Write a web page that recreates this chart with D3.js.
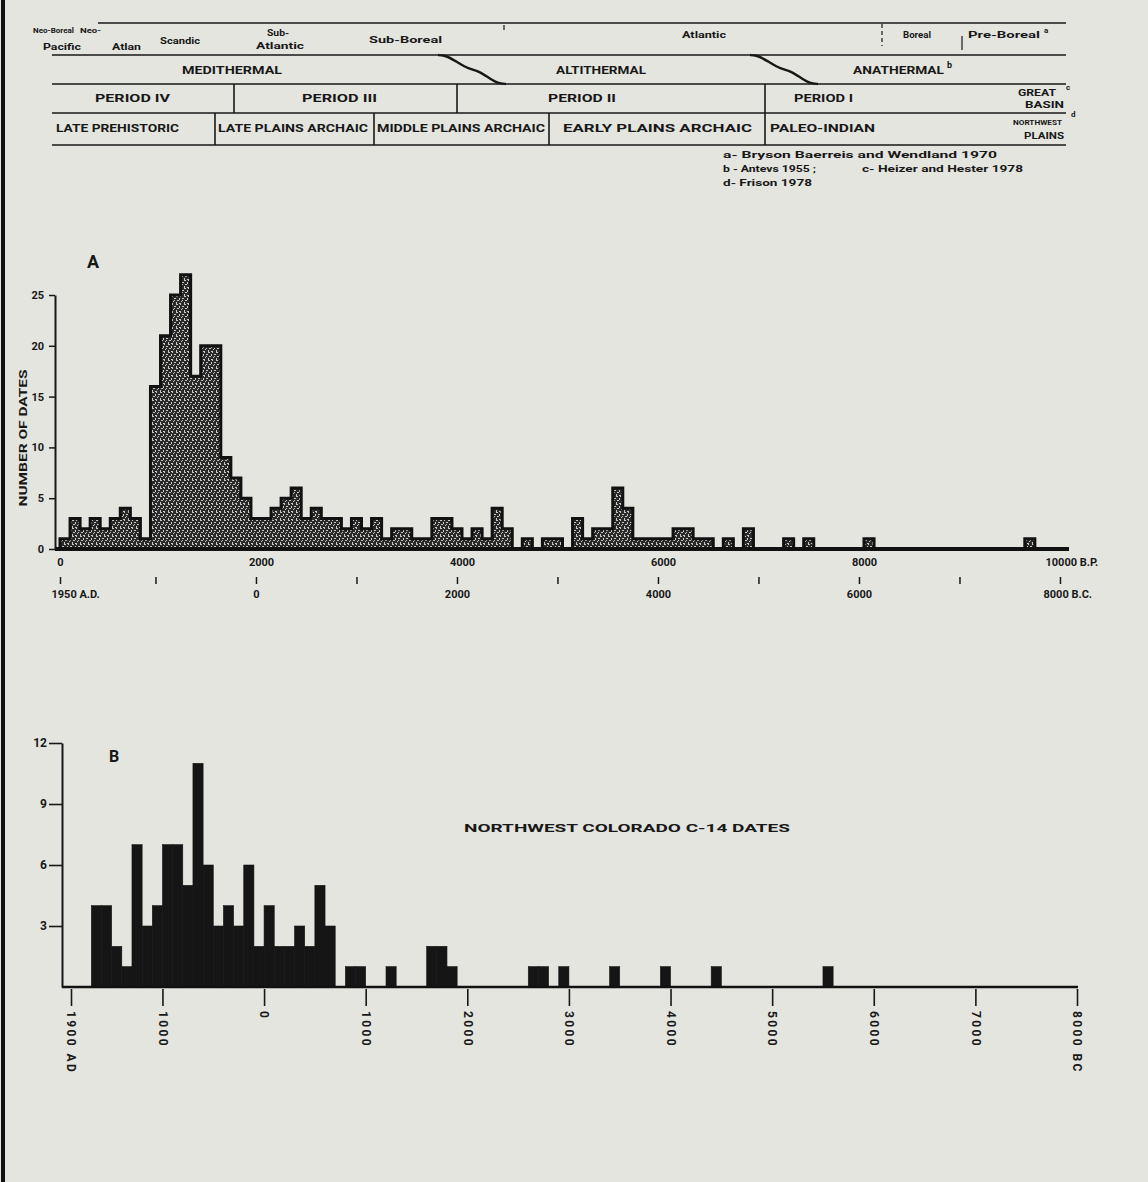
<!DOCTYPE html>
<html><head><meta charset="utf-8">
<script src="https://cdn.jsdelivr.net/npm/d3@7"></script>
<style>
html,body{margin:0;padding:0;background:#e4e5df;}
svg{display:block;}
text{font-family:Roboto,"DejaVu Sans",sans-serif;font-weight:700;fill:#181818;}
</style></head><body>
<svg id="c" width="1148" height="1182"></svg>
<script>
// ---------------- DATA ----------------
// Chart A: number of C-14 dates per 100-year bin, years B.P. (bin k = 100k .. 100k+100)
const binWidthA = 100;
const countsA = [
  1,3,2,3,2,3,4,3,1,16,
  21,25,27,17,20,20,9,7,5,3,
  3,4,5,6,3,4,3,3,2,3,
  2,3,1,2,2,1,1,3,3,2,
  1,2,1,4,2,0,1,0,1,1,
  0,3,1,2,2,6,4,1,1,1,
  1,2,2,1,1,0,1,0,2,0,
  0,0,1,0,1,0,0,0,0,0,
  1,0,0,0,0,0,0,0,0,0,
  0,0,0,0,0,0,1,0,0,0
];
const bpTicksA = [0, 2000, 4000, 6000, 8000, 10000];
const bpTickLabelsA = ["0", "2000", "4000", "6000", "8000", "10000 B.P."];
const calTicksA = [0, 950, 1950, 2950, 3950, 4950, 5950, 6950, 7950, 8950, 9950]; // in B.P.
const calTickLabelsA = ["1950 A.D.", "", "0", "", "2000", "", "4000", "", "6000", "", "8000 B.C."];
const yTicksA = [0, 5, 10, 15, 20, 25];
const yTitleA = "NUMBER OF DATES";

// Chart B: Northwest Colorado C-14 dates per 100-year bin (younger edge, calendar year; AD +, BC -)
const binEdgeB = [1700,1600,1500,1400,1300,1200,1100,1000,900,800,700,600,500,400,300,200,100,0,
  -100,-200,-300,-400,-500,-600,-800,-900,-1200,-1600,-1700,-1800,-2600,-2700,-2900,-3400,-3900,-4400,-5500];
const countsB = [4,4,2,1,7,3,4,7,7,5,11,6,3,4,3,6,2,4,
  2,2,3,2,5,3,1,1,1,2,2,1,1,1,1,1,1,1,1];
const binWidthB = 100;
const xTicksB = [1900,1000,0,-1000,-2000,-3000,-4000,-5000,-6000,-7000,-8000];
const xTickLabelsB = ["1900 AD","1000","0","1000","2000","3000","4000","5000","6000","7000","8000 BC"];
const yTicksB = [3, 6, 9, 12];
const titleB = "NORTHWEST COLORADO C-14 DATES";

// Chronology table text
const row1Labels = ["Neo-Boreal","Neo-","Pacific","Atlan","Scandic","Sub-","Atlantic","Sub-Boreal","Atlantic","Boreal","Pre-Boreal"];
const row2Labels = ["MEDITHERMAL","ALTITHERMAL","ANATHERMAL"];
const row3Labels = ["PERIOD IV","PERIOD III","PERIOD II","PERIOD I","GREAT","BASIN"];
const row4Labels = ["LATE PREHISTORIC","LATE PLAINS ARCHAIC","MIDDLE PLAINS ARCHAIC","EARLY PLAINS ARCHAIC","PALEO-INDIAN","NORTHWEST","PLAINS"];
const refLabels = ["a- Bryson Baerreis and Wendland 1970","b - Antevs 1955 ;","c- Heizer and Hester 1978","d- Frison 1978"];

// ---------------- DRAWING ----------------
const W = 1148, H = 1182;
const svg = d3.select("#c");
svg.append("rect").attr("width", W).attr("height", H).attr("fill", "#e4e5df");
const ink = "#181818";

const defs = svg.append("defs");
const pat = defs.append("pattern").attr("id","stip").attr("width",8).attr("height",8).attr("patternUnits","userSpaceOnUse");
pat.append("rect").attr("width",8).attr("height",8).attr("fill","#2a2a2a");
[[0,0,2,1],[3,2,1,2],[1,4,2,1],[5,5,1,1],[4,0,1,1],[6,2,2,1],[0,6,1,2],[3,7,2,1],[6,4,1,1]].forEach(r =>
  pat.append("rect").attr("x",r[0]).attr("y",r[1]).attr("width",r[2]).attr("height",r[3]).attr("fill","#c6c7c1"));

function txt(g, x, y, s, o = {}) {
  const t = g.append("text").attr("x", x).attr("y", y).text(s)
    .attr("font-size", o.size || 11).attr("text-anchor", o.anchor || "start");
  if (o.len) t.attr("textLength", o.len).attr("lengthAdjust", "spacingAndGlyphs");
  return t;
}
function hline(g, x1, x2, y, w = 1.6) {
  g.append("line").attr("x1", x1).attr("x2", x2).attr("y1", y).attr("y2", y).attr("stroke", ink).attr("stroke-width", w);
}
function vline(g, x, y1, y2, w = 1.6, dash) {
  const l = g.append("line").attr("x1", x).attr("x2", x).attr("y1", y1).attr("y2", y2).attr("stroke", ink).attr("stroke-width", w);
  if (dash) l.attr("stroke-dasharray", dash);
}

// frame (scan border)
svg.append("rect").attr("x", 1).attr("y", 0).attr("width", 4).attr("height", H).attr("fill", "#111");

// ---- Chronology table ----
const T = svg.append("g");
hline(T, 98, 1066, 23);
hline(T, 52, 1066, 55);
hline(T, 52, 1066, 84);
hline(T, 52, 1066, 113);
hline(T, 52, 1066, 145);
// S-shaped transitions between thermal stages
const sCurve = d3.line().curve(d3.curveBasis);
[[438, 506], [750, 818]].forEach(([a, b]) => {
  const w = b - a;
  T.append("path").attr("fill", "none").attr("stroke", ink).attr("stroke-width", 2.4)
    .attr("d", sCurve([[a,55],[a+w*0.12,55.5],[a+w*0.28,62],[a+w*0.45,69],[a+w*0.6,71],[a+w*0.75,78],[a+w*0.88,83.5],[b,84]]));
});
// row 3/4 dividers
vline(T, 234, 84, 113); vline(T, 457, 84, 113); vline(T, 765, 84, 145);
vline(T, 215, 113, 145); vline(T, 374, 113, 145); vline(T, 549, 113, 145);
// row 1 markers
vline(T, 882, 24, 46, 1.2, "4,3");
vline(T, 962, 36, 50, 1.2);
vline(T, 504, 25, 30, 1.2);

const r1 = [[33,33,41,7.5],[80,33,21,7.5],[43,50,38,9],[112,50,29,9.5],[160,44,40,9.5],[267,36,22,9.5],[256,49,48,9.5],[369,43,73,9.5],[682,38,44,9.5],[903,38,28,8.5],[968,38,72,9.5]];
row1Labels.forEach((s, i) => txt(T, r1[i][0], r1[i][1], s, {size: r1[i][3], len: r1[i][2]}));
txt(T, 1044, 33, "a", {size: 8});

const r2 = [[182,74,100],[556,74,90],[853,74,91]];
row2Labels.forEach((s, i) => txt(T, r2[i][0], r2[i][1], s, {size: 11, len: r2[i][2]}));
txt(T, 947, 68, "b", {size: 9});

const r3 = [[95,102,75,11],[302,102,75,11],[548,102,68,11],[794,102,59,11],[1018,96,38,9],[1025,108,39,9]];
row3Labels.forEach((s, i) => txt(T, r3[i][0], r3[i][1], s, {size: r3[i][3], len: r3[i][2]}));
txt(T, 1066, 90, "c", {size: 8});

const r4 = [[56,132,123,11],[218,132,150,11],[377,132,168,11],[563,132,189,11],[770,132,105,11],[1013,125,49,7.5],[1024,139,40,8.5]];
row4Labels.forEach((s, i) => txt(T, r4[i][0], r4[i][1], s, {size: r4[i][3], len: r4[i][2]}));
txt(T, 1071, 117, "d", {size: 8});

const rf = [[723,158,274],[723,172,93],[862,172,161],[723,186,89]];
refLabels.forEach((s, i) => txt(T, rf[i][0], rf[i][1], s, {size: 9.5, len: rf[i][2]}));

// ---- Chart A ----
const A = svg.append("g");
const xA = d3.scaleLinear().domain([0, 10000]).range([60, 1065]);
const yA = d3.scaleLinear().domain([0, 25]).range([549, 295]);

const ptsA = [[0, 0]].concat(countsA.map((c, k) => [k * binWidthA, c]), [[countsA.length * binWidthA, 0]]);
A.append("path")
  .attr("d", d3.area().curve(d3.curveStepAfter).x(d => xA(d[0])).y0(yA(0)).y1(d => yA(d[1]))(ptsA))
  .attr("fill", "url(#stip)");
A.append("path")
  .attr("d", d3.line().curve(d3.curveStepAfter).x(d => xA(d[0])).y(d => yA(d[1]))(ptsA))
  .attr("fill", "none").attr("stroke", "#111").attr("stroke-width", 3);

// baseline
A.append("line").attr("x1", 55).attr("x2", 1069).attr("y1", yA(0)).attr("y2", yA(0)).attr("stroke", "#111").attr("stroke-width", 4);

// y axis
const yAxA = A.append("g").attr("transform", "translate(55,0)")
  .call(d3.axisLeft(yA).tickValues(yTicksA).tickSize(6).tickSizeOuter(0).tickPadding(5).tickFormat(d3.format("d")));
yAxA.attr("font-family", null);
yAxA.select(".domain").attr("stroke", ink).attr("stroke-width", 2);
yAxA.selectAll(".tick line").attr("stroke", ink).attr("stroke-width", 1.5);
yAxA.selectAll("text").attr("font-size", 11).attr("fill", ink);

txt(A, 0, 0, yTitleA, {size: 11, anchor: "middle", len: 137}).attr("transform", "translate(27,438) rotate(-90)");
txt(A, 93, 268, "A", {size: 18, anchor: "middle"});

// B.P. axis labels
const xAxA = A.append("g").attr("transform", `translate(0,${yA(0) + 4})`)
  .call(d3.axisBottom(xA).tickValues(bpTicksA).tickSize(0).tickPadding(5).tickFormat((d, i) => bpTickLabelsA[i]));
xAxA.attr("font-family", null);
xAxA.select(".domain").remove();
xAxA.selectAll("text").attr("font-size", 11).attr("fill", ink);
xAxA.selectAll(".tick").filter((d, i) => i === bpTicksA.length - 1).select("text").attr("text-anchor", "start").attr("dx", -20);

// calendar axis
const calA = A.append("g").attr("transform", "translate(0,577)")
  .call(d3.axisBottom(xA).tickValues(calTicksA).tickSize(7).tickPadding(6).tickFormat((d, i) => calTickLabelsA[i]));
calA.attr("font-family", null);
calA.select(".domain").remove();
calA.selectAll(".tick line").attr("stroke", ink).attr("stroke-width", 1.5);
calA.selectAll("text").attr("font-size", 11).attr("fill", ink);
calA.selectAll(".tick").filter((d, i) => i === 0).select("text").attr("text-anchor", "start").attr("dx", -9);
calA.selectAll(".tick").filter((d, i) => i === calTicksA.length - 1).select("text").attr("text-anchor", "start").attr("dx", -17);

// ---- Chart B ----
const B = svg.append("g");
const xB = d3.scaleLinear().domain([1900, -8000]).range([71, 1077]);
const yB = d3.scaleLinear().domain([0, 12]).range([987, 743]);

B.selectAll("rect.bar").data(binEdgeB.map((e, i) => ({e, c: countsB[i]}))).join("rect")
  .attr("class", "bar")
  .attr("x", d => xB(d.e))
  .attr("width", d => xB(d.e - binWidthB) - xB(d.e))
  .attr("y", d => yB(d.c))
  .attr("height", d => yB(0) - yB(d.c))
  .attr("fill", "#151515")
  .attr("stroke", "#151515").attr("stroke-width", 0.6);

B.append("line").attr("x1", 62).attr("x2", 1078).attr("y1", yB(0)).attr("y2", yB(0)).attr("stroke", "#111").attr("stroke-width", 2.5);

const yAxB = B.append("g").attr("transform", "translate(62,0)")
  .call(d3.axisLeft(yB).tickValues(yTicksB).tickSize(13).tickSizeOuter(0).tickPadding(2));
yAxB.attr("font-family", null);
yAxB.select(".domain").attr("stroke", ink).attr("stroke-width", 2);
yAxB.selectAll(".tick line").attr("stroke", ink).attr("stroke-width", 1.6);
yAxB.selectAll("text").attr("font-size", 12).attr("fill", ink);

const xAxB = B.append("g").attr("transform", `translate(0,${yB(0) + 2})`)
  .call(d3.axisBottom(xB).tickValues(xTicksB).tickSize(17).tickFormat((d, i) => xTickLabelsB[i]));
xAxB.attr("font-family", null);
xAxB.select(".domain").remove();
xAxB.selectAll(".tick line").attr("stroke", ink).attr("stroke-width", 1.6);
xAxB.selectAll("text").attr("font-size", 12).attr("fill", ink)
  .attr("transform", "rotate(90)").attr("x", 22).attr("y", 0).attr("dy", "0.35em")
  .attr("text-anchor", "start").attr("letter-spacing", 2.4);

txt(B, 114, 762, "B", {size: 16, anchor: "middle"});
txt(B, 464, 832, titleB, {size: 11, len: 326});
</script>
</body></html>
